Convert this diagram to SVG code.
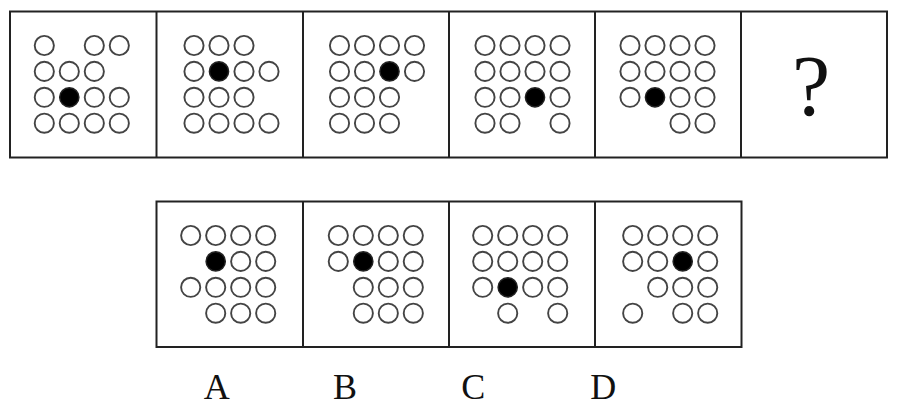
<svg xmlns="http://www.w3.org/2000/svg" width="909" height="413" viewBox="0 0 909 413">
<style>
.frame{fill:none;stroke:#222;stroke-width:2}
.o{fill:#fff;stroke:#444;stroke-width:1.9}
.f{fill:#000;stroke:#222;stroke-width:1.5}
.lbl{font-family:"Liberation Serif","Times New Roman",serif;fill:#111}
</style>
<defs>
<circle id="c" r="9.6"/>
</defs>
<rect width="909" height="413" fill="#fff"/>
<g id="frames">
<rect class="frame" x="10" y="11.5" width="877" height="146"/>
<line class="frame" x1="156.5" y1="11.5" x2="156.5" y2="157.5"/>
<line class="frame" x1="303" y1="11.5" x2="303" y2="157.5"/>
<line class="frame" x1="449" y1="11.5" x2="449" y2="157.5"/>
<line class="frame" x1="595" y1="11.5" x2="595" y2="157.5"/>
<line class="frame" x1="741" y1="11.5" x2="741" y2="157.5"/>
<rect class="frame" x="156.5" y="201.5" width="585" height="145.5"/>
<line class="frame" x1="303" y1="201.5" x2="303" y2="347"/>
<line class="frame" x1="449" y1="201.5" x2="449" y2="347"/>
<line class="frame" x1="595" y1="201.5" x2="595" y2="347"/>
</g>
<g id="p1" transform="translate(44.3,45.5)">
<use href="#c" class="o" x="0" y="0"/><use href="#c" class="o" x="50" y="0"/><use href="#c" class="o" x="75" y="0"/>
<use href="#c" class="o" x="0" y="25.9"/><use href="#c" class="o" x="25" y="25.9"/><use href="#c" class="o" x="50" y="25.9"/>
<use href="#c" class="o" x="0" y="51.8"/><use href="#c" class="f" x="25" y="51.8"/><use href="#c" class="o" x="50" y="51.8"/><use href="#c" class="o" x="75" y="51.8"/>
<use href="#c" class="o" x="0" y="77.7"/><use href="#c" class="o" x="25" y="77.7"/><use href="#c" class="o" x="50" y="77.7"/><use href="#c" class="o" x="75" y="77.7"/>
</g>
<g id="p2" transform="translate(194,45.5)">
<use href="#c" class="o" x="0" y="0"/><use href="#c" class="o" x="25" y="0"/><use href="#c" class="o" x="50" y="0"/>
<use href="#c" class="o" x="0" y="25.9"/><use href="#c" class="f" x="25" y="25.9"/><use href="#c" class="o" x="50" y="25.9"/><use href="#c" class="o" x="75" y="25.9"/>
<use href="#c" class="o" x="0" y="51.8"/><use href="#c" class="o" x="25" y="51.8"/><use href="#c" class="o" x="50" y="51.8"/>
<use href="#c" class="o" x="0" y="77.7"/><use href="#c" class="o" x="25" y="77.7"/><use href="#c" class="o" x="50" y="77.7"/><use href="#c" class="o" x="75" y="77.7"/>
</g>
<g id="p3" transform="translate(339.5,45.5)">
<use href="#c" class="o" x="0" y="0"/><use href="#c" class="o" x="25" y="0"/><use href="#c" class="o" x="50" y="0"/><use href="#c" class="o" x="75" y="0"/>
<use href="#c" class="o" x="0" y="25.9"/><use href="#c" class="o" x="25" y="25.9"/><use href="#c" class="f" x="50" y="25.9"/><use href="#c" class="o" x="75" y="25.9"/>
<use href="#c" class="o" x="0" y="51.8"/><use href="#c" class="o" x="25" y="51.8"/><use href="#c" class="o" x="50" y="51.8"/>
<use href="#c" class="o" x="0" y="77.7"/><use href="#c" class="o" x="25" y="77.7"/><use href="#c" class="o" x="50" y="77.7"/>
</g>
<g id="p4" transform="translate(485,45.5)">
<use href="#c" class="o" x="0" y="0"/><use href="#c" class="o" x="25" y="0"/><use href="#c" class="o" x="50" y="0"/><use href="#c" class="o" x="75" y="0"/>
<use href="#c" class="o" x="0" y="25.9"/><use href="#c" class="o" x="25" y="25.9"/><use href="#c" class="o" x="50" y="25.9"/><use href="#c" class="o" x="75" y="25.9"/>
<use href="#c" class="o" x="0" y="51.8"/><use href="#c" class="o" x="25" y="51.8"/><use href="#c" class="f" x="50" y="51.8"/><use href="#c" class="o" x="75" y="51.8"/>
<use href="#c" class="o" x="0" y="77.7"/><use href="#c" class="o" x="25" y="77.7"/><use href="#c" class="o" x="75" y="77.7"/>
</g>
<g id="p5" transform="translate(630,45.5)">
<use href="#c" class="o" x="0" y="0"/><use href="#c" class="o" x="25" y="0"/><use href="#c" class="o" x="50" y="0"/><use href="#c" class="o" x="75" y="0"/>
<use href="#c" class="o" x="0" y="25.9"/><use href="#c" class="o" x="25" y="25.9"/><use href="#c" class="o" x="50" y="25.9"/><use href="#c" class="o" x="75" y="25.9"/>
<use href="#c" class="o" x="0" y="51.8"/><use href="#c" class="f" x="25" y="51.8"/><use href="#c" class="o" x="50" y="51.8"/><use href="#c" class="o" x="75" y="51.8"/>
<use href="#c" class="o" x="50" y="77.7"/><use href="#c" class="o" x="75" y="77.7"/>
</g>
<g id="p6">
<text class="lbl" x="811" y="115" font-size="86" text-anchor="middle">?</text>
</g>
<g id="optA" transform="translate(190.7,235.5)">
<use href="#c" class="o" x="0" y="0"/><use href="#c" class="o" x="25" y="0"/><use href="#c" class="o" x="50" y="0"/><use href="#c" class="o" x="75" y="0"/>
<use href="#c" class="f" x="25" y="25.9"/><use href="#c" class="o" x="50" y="25.9"/><use href="#c" class="o" x="75" y="25.9"/>
<use href="#c" class="o" x="0" y="51.8"/><use href="#c" class="o" x="25" y="51.8"/><use href="#c" class="o" x="50" y="51.8"/><use href="#c" class="o" x="75" y="51.8"/>
<use href="#c" class="o" x="25" y="77.7"/><use href="#c" class="o" x="50" y="77.7"/><use href="#c" class="o" x="75" y="77.7"/>
</g>
<g id="optB" transform="translate(338.3,235.5)">
<use href="#c" class="o" x="0" y="0"/><use href="#c" class="o" x="25" y="0"/><use href="#c" class="o" x="50" y="0"/><use href="#c" class="o" x="75" y="0"/>
<use href="#c" class="o" x="0" y="25.9"/><use href="#c" class="f" x="25" y="25.9"/><use href="#c" class="o" x="50" y="25.9"/><use href="#c" class="o" x="75" y="25.9"/>
<use href="#c" class="o" x="25" y="51.8"/><use href="#c" class="o" x="50" y="51.8"/><use href="#c" class="o" x="75" y="51.8"/>
<use href="#c" class="o" x="25" y="77.7"/><use href="#c" class="o" x="50" y="77.7"/><use href="#c" class="o" x="75" y="77.7"/>
</g>
<g id="optC" transform="translate(482.7,235.5)">
<use href="#c" class="o" x="0" y="0"/><use href="#c" class="o" x="25" y="0"/><use href="#c" class="o" x="50" y="0"/><use href="#c" class="o" x="75" y="0"/>
<use href="#c" class="o" x="0" y="25.9"/><use href="#c" class="o" x="25" y="25.9"/><use href="#c" class="o" x="50" y="25.9"/><use href="#c" class="o" x="75" y="25.9"/>
<use href="#c" class="o" x="0" y="51.8"/><use href="#c" class="f" x="25" y="51.8"/><use href="#c" class="o" x="50" y="51.8"/><use href="#c" class="o" x="75" y="51.8"/>
<use href="#c" class="o" x="25" y="77.7"/><use href="#c" class="o" x="75" y="77.7"/>
</g>
<g id="optD" transform="translate(632.7,235.5)">
<use href="#c" class="o" x="0" y="0"/><use href="#c" class="o" x="25" y="0"/><use href="#c" class="o" x="50" y="0"/><use href="#c" class="o" x="75" y="0"/>
<use href="#c" class="o" x="0" y="25.9"/><use href="#c" class="o" x="25" y="25.9"/><use href="#c" class="f" x="50" y="25.9"/><use href="#c" class="o" x="75" y="25.9"/>
<use href="#c" class="o" x="25" y="51.8"/><use href="#c" class="o" x="50" y="51.8"/><use href="#c" class="o" x="75" y="51.8"/>
<use href="#c" class="o" x="0" y="77.7"/><use href="#c" class="o" x="50" y="77.7"/><use href="#c" class="o" x="75" y="77.7"/>
</g>
<g id="labels" class="lbl" font-size="36" text-anchor="middle">
<text x="216.7" y="399">A</text>
<text x="345" y="399">B</text>
<text x="473.3" y="399">C</text>
<text x="603.3" y="399">D</text>
</g>
</svg>
